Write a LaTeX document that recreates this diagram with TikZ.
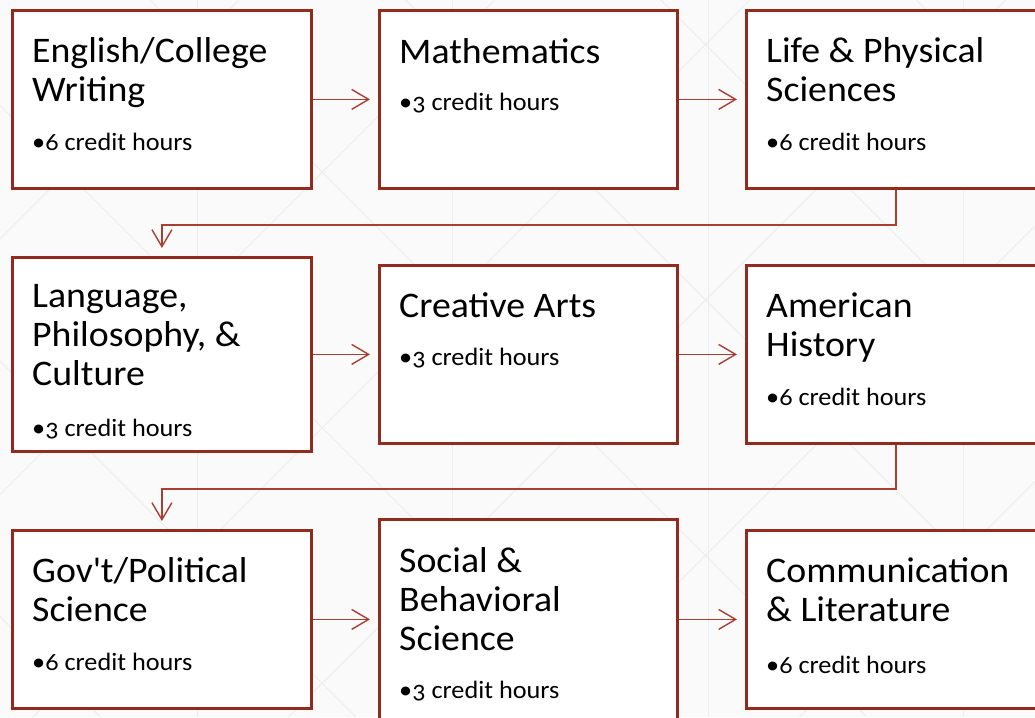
\documentclass[tikz,border=0pt]{standalone}
\usepackage{fontspec}
\setmainfont{Carlito}[Numbers=OldStyle, FakeStretch=1.05]
\usetikzlibrary{arrows.meta}
\definecolor{boxred}{RGB}{146,42,30}
\definecolor{linkred}{RGB}{170,62,50}
\definecolor{bgfill}{RGB}{250,250,250}
\definecolor{bgline}{RGB}{237,237,237}
\begin{document}
\begin{tikzpicture}[x=1pt, y=-1pt,
  box/.style={draw=boxred, line width=2.8pt, fill=white, anchor=north west,
    minimum width=299pt, minimum height=178pt, inner sep=0pt},
  ttl/.style={anchor=north west, inner sep=0pt, align=left,
    font=\fontsize{36}{39}\selectfont},
  hrs/.style={anchor=base west, inner sep=0pt, font=\fontsize{25}{30}\selectfont},
  link/.style={draw=linkred, line width=1.4pt,
    -{Straight Barb[length=17pt,width=20pt]}, shorten >=8pt}]
\useasboundingbox (0,0) rectangle (1035,717);
\fill [bgfill] (0,0) rectangle (1035,717);

% faint lattice behind the boxes
\foreach \c in {-616.5,-361,-105.5,150,405.5,661,916.5}
  \draw [bgline, line width=0.8pt] (\c,0) -- ++(717,717);
\foreach \c in {239,494.5,750,1005.5,1261,1516.5}
  \draw [bgline, line width=0.8pt] (\c,0) -- ++(-717,717);
\foreach \c in {197,452.5,708,963.5}
  \draw [bgline, line width=0.8pt] (\c,0) -- (\c,717);

% first row
\node [box] (eng) at (11,9) {};
\node [box, minimum width=298pt] (math) at (378,9) {};
\node [box] (sci) at (745,9) {};
\node [ttl] (engT) at (32,34.7) {\strut English/College\\Writing};
\node [hrs] (engH) at (32,150) {•6 credit hours};
\node [ttl] (mathT) at (399,35.7) {\strut Mathematics};
\node [hrs] (mathH) at (399,110) {•3 credit hours};
\node [ttl] (sciT) at (766,34.7) {\strut Life \& Physical\\Sciences};
\node [hrs] (sciH) at (766,150) {•6 credit hours};

% second row
\node [box, minimum height=194pt] (lang) at (11,256) {};
\node [box, minimum width=298pt] (arts) at (378,264) {};
\node [box] (hist) at (745,264) {};
\node [ttl] (langT) at (32,279.7) {\strut Language,\\Philosophy, \&\\Culture};
\node [hrs] (langH) at (32,436) {•3 credit hours};
\node [ttl] (artsT) at (399,289.7) {\strut Creative Arts};
\node [hrs] (artsH) at (399,365) {•3 credit hours};
\node [ttl] (histT) at (766,289.7) {\strut American\\History};
\node [hrs] (histH) at (766,405) {•6 credit hours};

% third row
\node [box] (gov) at (11,529) {};
\node [box, minimum width=298pt, minimum height=200pt] (soc) at (378,518) {};
\node [box] (comm) at (745,529) {};
\node [ttl] (govT) at (32,554.7) {\strut Gov\textquotesingle t/Political\\Science};
\node [hrs] (govH) at (32,670) {•6 credit hours};
\node [ttl] (socT) at (399,544.7) {\strut Social \&\\Behavioral\\Science};
\node [hrs] (socH) at (399,698) {•3 credit hours};
\node [ttl] (commT) at (766,554.7) {\strut Communication\\\& Literature};
\node [hrs] (commH) at (766,673) {•6 credit hours};

% connectors
\draw [link] (eng) -- (math);
\draw [link] (math) -- (sci);
\draw [link] (sci.south) -- ++(0,35) -| (lang.north);
\draw [link] (lang) -- (arts);
\draw [link] (arts) -- (hist);
\draw [link] (hist.south) -- ++(0,44) -| (gov.north);
\draw [link] (gov) -- (soc);
\draw [link] (soc) -- (comm);
\end{tikzpicture}
\end{document}
